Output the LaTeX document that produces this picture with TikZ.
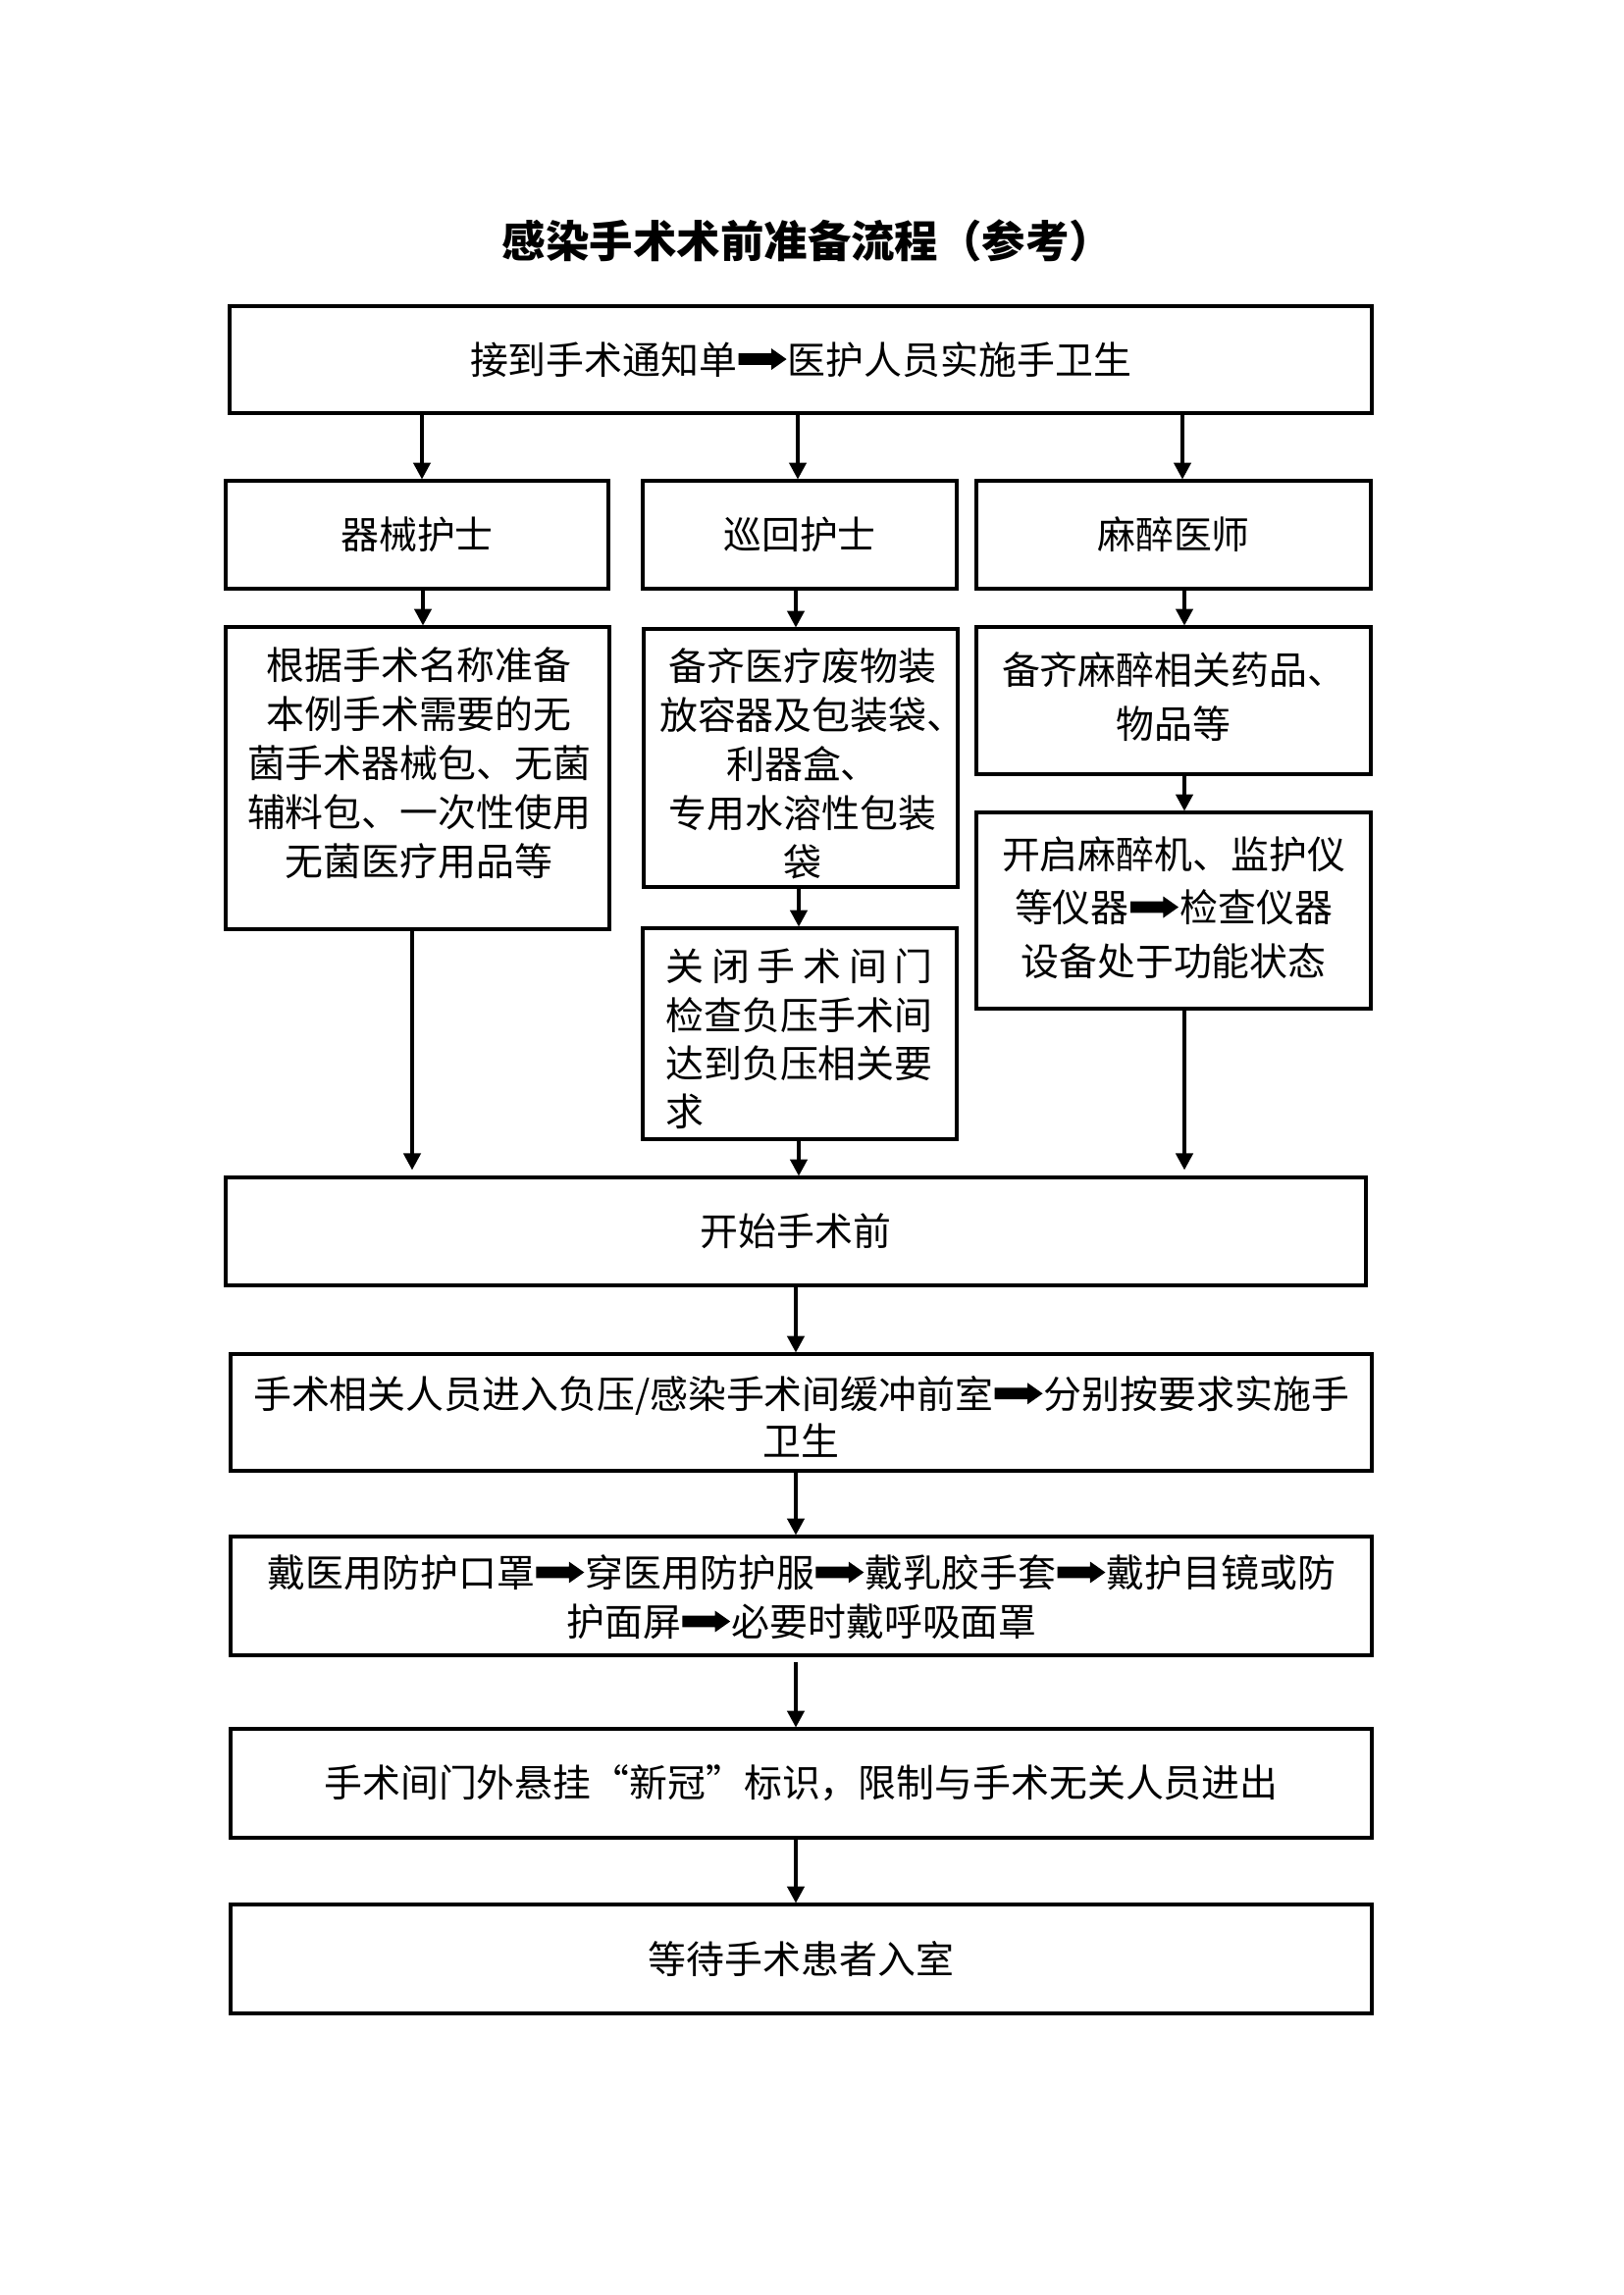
\documentclass[tikz,border=0pt]{standalone}
\usepackage{fontspec}
\setmainfont{Noto Sans CJK SC}
\usetikzlibrary{arrows.meta}
\newcommand{\rarr}{\hspace{0.5bp}\begin{pgfpicture}\pgfsetbaseline{0pt}%
\pgfpathrectangle{\pgfpoint{0bp}{3.4bp}}{\pgfpoint{12.4bp}{4.2bp}}%
\pgfpathmoveto{\pgfpoint{12bp}{1.55bp}}%
\pgfpathlineto{\pgfpoint{17.6bp}{5.5bp}}%
\pgfpathlineto{\pgfpoint{12bp}{9.45bp}}%
\pgfpathclose
\pgfusepath{fill}\end{pgfpicture}\hspace{0.5bp}}
\begin{document}
\begin{tikzpicture}[x=0.36bp,y=-0.36bp,
  box/.style 2 args={draw, line width=1.1bp, minimum width=#1*0.36bp, minimum height=#2*0.36bp, inner sep=0pt},
  txt/.style={inner sep=0pt, align=center, font=\fontsize{14bp}{#1bp}\selectfont},
  txt/.default=18,
  arr/.style={line width=1.1bp, -{Triangle[length=6.1bp,width=6.3bp]}}]
\path[use as bounding box, fill=white] (0,0) rectangle (1654,2339);
\node[inner sep=0pt, font=\fontsize{16bp}{20bp}\selectfont\bfseries] (title) at (823,245) {感染手术术前准备流程（参考）};
% top
\node[box={1164}{109}, txt] (T) at (816,366.5) {接到手术通知单\rarr 医护人员实施手卫生};
% row 2
\node[box={390}{110}, txt] (A2) at (425,545) {器械护士};
\node[box={320}{110}, txt] (B2) at (815,545) {巡回护士};
\node[box={402}{110}, txt] (C2) at (1196,545) {麻醉医师};
% row 3
\node[box={391}{308}] (A3) at (425.5,793) {};
\node[txt=18] (A3t) at (427,778) {根据手术名称准备\\本例手术需要的无\\菌手术器械包、无菌\\辅料包、一次性使用\\无菌医疗用品等};
\node[box={320}{263}] (B3) at (816,772.5) {};
\node[txt=18] (B3t) at (818,778) {备齐医疗废物装\\放容器及包装袋\makebox[7bp][l]{、}\\利器盒、\\专用水溶性包装\\袋};
\node[box={402}{150}] (C3) at (1196,714) {};
\node[txt=19.6] (C3t) at (1196,710) {备齐麻醉相关药品、\\物品等};
\node[box={402}{200}] (C4) at (1196,928) {};
\node[txt=19.6] (C4t) at (1196,925) {开启麻醉机、监护仪\\等仪器\rarr 检查仪器\\设备处于功能状态};
\node[box={320}{215}] (B4) at (815,1053.5) {};
\node[txt=17.8, align=left, text width=98bp] (B4t) at (814.5,1059) {\makebox[98bp][s]{关\hfil 闭\hfil 手\hfil 术\hfil 间\hfil 门}\\检查负压手术间\\达到负压相关要\\求};
% start
\node[box={1162}{110}, txt] (S) at (811,1255) {开始手术前};
\node[box={1163}{119}] (P) at (816.5,1439.5) {};
\node[txt=17.3] (Pt) at (816.5,1444) {\makebox[402bp][s]{手\hfil 术\hfil 相\hfil 关\hfil 人\hfil 员\hfil 进\hfil 入\hfil 负\hfil 压\hfil /\hfil 感\hfil 染\hfil 手\hfil 术\hfil 间\hfil 缓\hfil 冲\hfil 前\hfil 室\hfil \rarr\hfil 分\hfil 别\hfil 按\hfil 要\hfil 求\hfil 实\hfil 施\hfil 手}\\卫生};
\node[box={1163}{121}] (Q) at (816.5,1626.5) {};
\node[txt=18] (Qt) at (817,1628) {戴医用防护口罩\rarr 穿医用防护服\rarr 戴乳胶手套\rarr 戴护目镜或防\\护面屏\rarr 必要时戴呼吸面罩};
\node[box={1163}{111}, txt] (R) at (816.5,1817.5) {手术间门外悬挂“新冠”标识，限制与手术无关人员进出};
\node[box={1163}{111}, txt] (U) at (816.5,1996.5) {等待手术患者入室};
% connectors
\coordinate (xa) at (430,0);
\coordinate (xb) at (813,0);
\coordinate (xc) at (1205,0);
\coordinate (xa2) at (431,0);
\coordinate (xb2) at (811,0);
\coordinate (xc2) at (1207,0);
\coordinate (xb3) at (814,0);
\coordinate (xa4) at (420,0);
\coordinate (xm) at (811,0);
\draw[arr] (T.south -| xa) -- (A2.north -| xa);
\draw[arr] (T.south -| xb) -- (B2.north -| xb);
\draw[arr] (T.south -| xc) -- (C2.north -| xc);
\draw[arr] (A2.south -| xa2) -- (A3.north -| xa2);
\draw[arr] (B2.south -| xb2) -- (B3.north -| xb2);
\draw[arr] (C2.south -| xc2) -- (C3.north -| xc2);
\draw[arr] (B3.south -| xb3) -- (B4.north -| xb3);
\draw[arr] (C3.south -| xc2) -- (C4.north -| xc2);
\draw[arr, shorten >=2.2bp] (A3.south -| xa4) -- (S.north -| xa4);
\draw[arr] (B4.south -| xb3) -- (S.north -| xb3);
\draw[arr, shorten >=2.2bp] (C4.south -| xc2) -- (S.north -| xc2);
\draw[arr] (S.south -| xm) -- (P.north -| xm);
\draw[arr] (P.south -| xm) -- (Q.north -| xm);
\draw[arr, shorten <=1.8bp] (Q.south -| xm) -- (R.north -| xm);
\draw[arr] (R.south -| xm) -- (U.north -| xm);
\end{tikzpicture}
\end{document}
